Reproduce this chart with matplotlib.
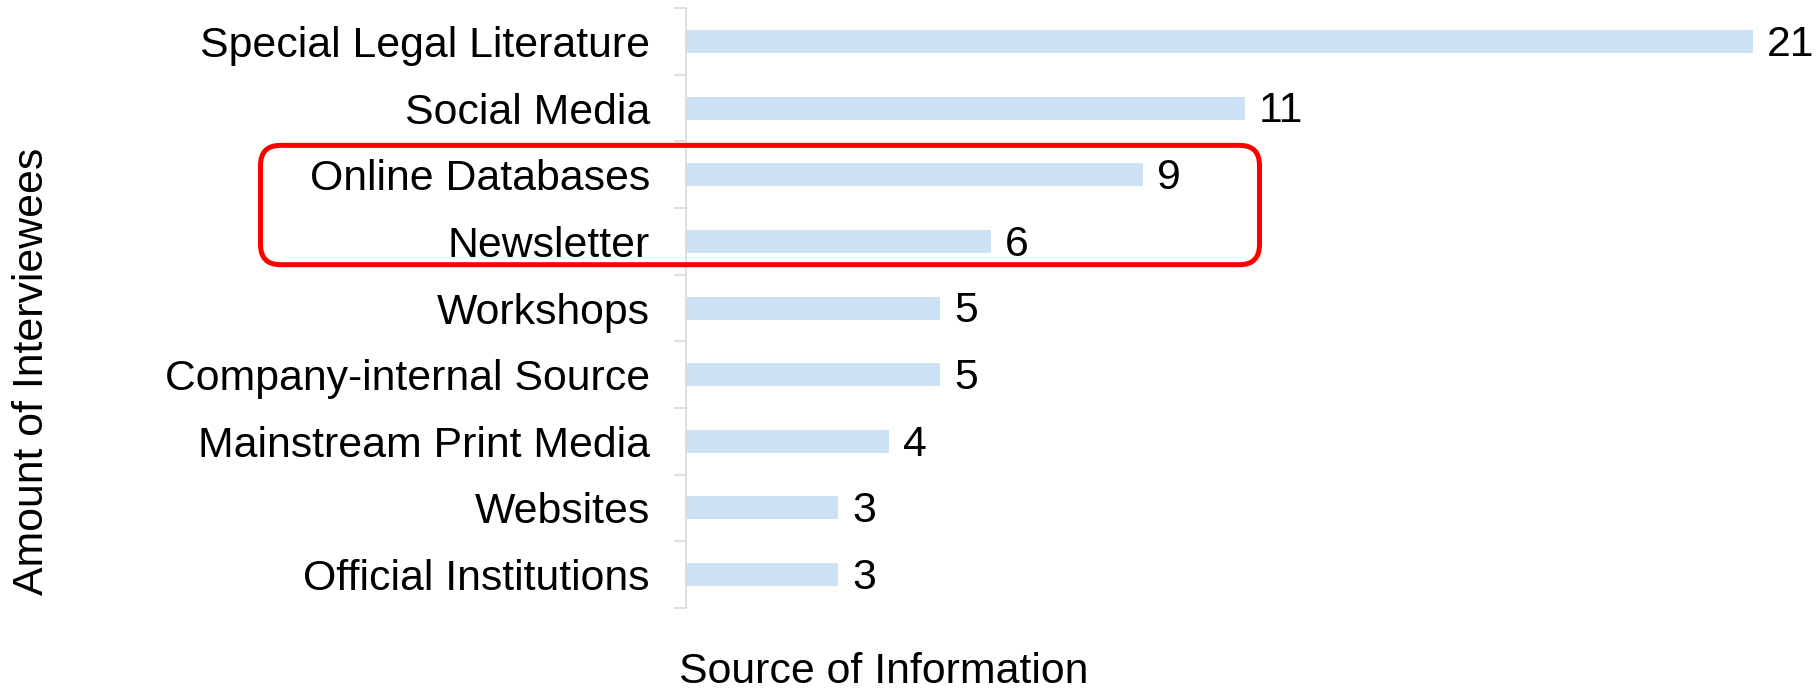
import numpy as np
import matplotlib
matplotlib.use("Agg")
import matplotlib.pyplot as plt
from matplotlib.patches import FancyBboxPatch
from matplotlib.transforms import IdentityTransform

# ---- DATA ----
sources = [
    "Special Legal Literature",
    "Social Media",
    "Online Databases",
    "Newsletter",
    "Workshops",
    "Company-internal Source",
    "Mainstream Print Media",
    "Websites",
    "Official Institutions",
]
interviewees = [21, 11, 9, 6, 5, 5, 4, 3, 3]
highlighted = ["Online Databases", "Newsletter"]

# ---- STYLE ----
BAR_COLOR = "#CDE1F4"
AXIS_GRAY = "#D9D9D9"
FONT_SIZE = 30.8

plt.rcParams["font.family"] = ["Liberation Sans", "DejaVu Sans"]

DPI = 100
fig = plt.figure(figsize=(18.18, 6.92), dpi=DPI)
ax = fig.add_axes([0.3773, 0.1214, 0.5892, 0.8670])

pos = np.arange(len(sources))
ax.barh(pos, interviewees, height=0.345, color=BAR_COLOR)
ax.set_ylim(len(sources) - 0.5, -0.5)
ax.set_xlim(0, 21.08)

# value labels to the right of each bar
for y, v in zip(pos, interviewees):
    ax.annotate(str(v), xy=(v, y), xytext=(10, -2.5), textcoords="offset points",
                va="center", ha="left", fontsize=FONT_SIZE, color="black")

# category labels, with tick marks between categories
ax.set_yticks(pos)
ax.set_yticklabels(sources, fontsize=FONT_SIZE)
ax.tick_params(axis="y", which="major", length=0, pad=26)
ax.set_yticks(np.arange(len(sources) + 1) - 0.5, minor=True)
ax.tick_params(axis="y", which="minor", length=8.6, width=1.2, color=AXIS_GRAY)

ax.set_xticks([])
for side in ["top", "right", "bottom"]:
    ax.spines[side].set_visible(False)
ax.spines["left"].set_color(AXIS_GRAY)
ax.spines["left"].set_linewidth(1.2)

# axis titles
fig.text(679 / 1818, 1 - 672 / 692, "Source of Information", fontsize=FONT_SIZE,
         ha="left", va="center")
fig.text(32 / 1818, 1 - 371 / 692, "Amount of Interviewees", fontsize=FONT_SIZE,
         rotation=90, ha="center", va="center")

# red rounded frame around the highlighted rows
idx = [sources.index(s) for s in highlighted]
top_px = ax.transData.transform((0, min(idx) - 0.44))[1]
bot_px = ax.transData.transform((0, max(idx) + 0.35))[1]
left_px = 260.5
right_px = 1259.5
frame = FancyBboxPatch((left_px, bot_px), right_px - left_px, top_px - bot_px,
                       boxstyle="round,pad=0,rounding_size=20",
                       fill=False, edgecolor="#FF0000", linewidth=3.6)
fig.add_artist(frame)
frame.set_transform(IdentityTransform())

fig.savefig("out.png", dpi=DPI)
